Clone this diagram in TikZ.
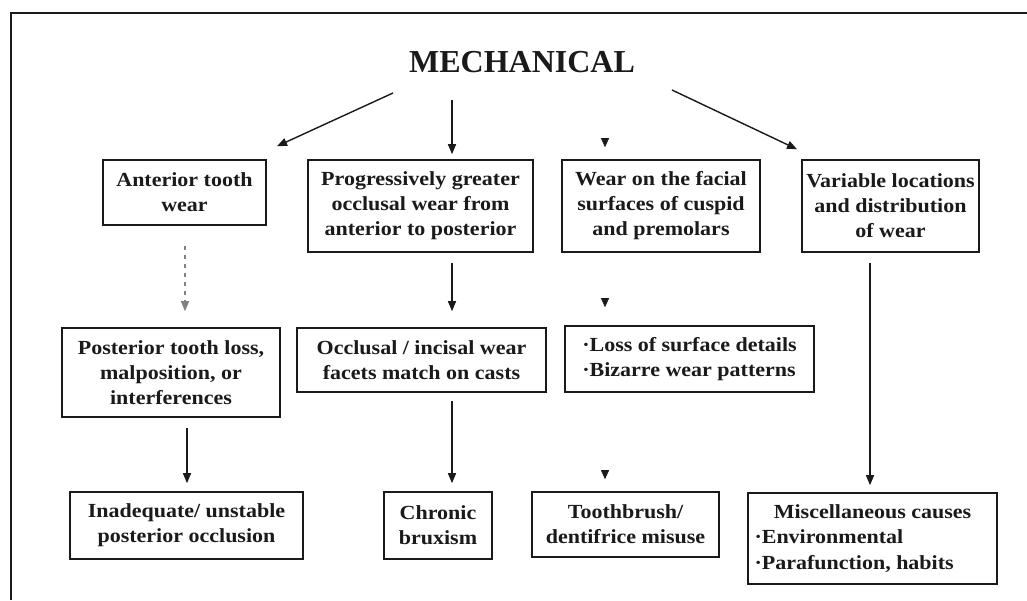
\documentclass[tikz,border=0pt]{standalone}
\usepackage{fontspec}
\setmainfont{Liberation Serif}[FakeStretch=1.1]
\newfontfamily\titlefont{Liberation Serif}
\usetikzlibrary{arrows.meta}
\definecolor{ink}{HTML}{1A1A1A}
\begin{document}
\begin{tikzpicture}[x=1pt,y=-1pt,
  box/.style={draw=ink,line width=1.6pt,inner sep=0pt,align=center,text=ink,
    font=\fontsize{20}{25}\selectfont\bfseries},
  arr/.style={draw=ink,line width=1.4pt,-{Triangle[length=10pt,width=8pt]}},
  tip/.style={draw=ink,line width=0.6pt,-{Triangle[length=9pt,width=8pt]}},
  faint/.style={draw=ink!55,line width=1.1pt,dash pattern=on 4pt off 5pt,-{Triangle[length=10pt,width=8pt]}}]
\useasboundingbox (0,0) rectangle (1027,600);
\fill[white] (0,0) rectangle (1027,600);
% frame
\draw[ink,line width=2pt] (11,600) -- (11,13) -- (1027,13);
% title
\node[text=ink,font=\titlefont\fontsize{32}{36}\selectfont\bfseries] (title) at (522,62) {MECHANICAL};
% row 1
\node[box,minimum width=163pt,minimum height=65pt] (ant) at (184.5,192.5) {Anterior tooth\\wear};
\node[box,minimum width=225pt,minimum height=92pt] (prog) at (420.5,206) {Progressively greater\\occlusal wear from\\anterior to posterior};
\node[box,minimum width=198pt,minimum height=92pt] (facial) at (661,206) {Wear on the facial\\surfaces of cuspid\\and premolars};
\node[box,minimum width=177pt,minimum height=92pt] (var) at (890.5,206) {Variable locations\\and distribution\\of wear};
% row 2
\node[box,minimum width=218pt,minimum height=89pt] (post) at (171,372.5) {Posterior tooth loss,\\malposition, or\\interferences};
\node[box,minimum width=249pt,minimum height=64pt] (occl) at (421.5,360) {Occlusal / incisal wear\\facets match on casts};
\node[box,minimum width=249pt,minimum height=66pt,align=left] (loss) at (689.5,359) {·Loss of surface details\\·Bizarre wear patterns};
% row 3
\node[box,minimum width=233pt,minimum height=67pt] (inad) at (186.5,525.5) {Inadequate/ unstable\\posterior occlusion};
\node[box,minimum width=108pt,minimum height=67pt] (chron) at (438,525.5) {Chronic\\bruxism};
\node[box,minimum width=187pt,minimum height=65pt] (tooth) at (625.5,524.5) {Toothbrush/\\dentifrice misuse};
\node[box,minimum width=249pt,minimum height=91pt] (misc) at (872.5,538.5) {\begin{minipage}{236pt}\baselineskip=25.5pt
{\centering Miscellaneous causes\par}
\raggedright ·Environmental\par
·Parafunction, habits\end{minipage}};
% connectors from title
\draw[arr] ([xshift=-129pt,yshift=-31pt]title.center) -- ([xshift=92.5pt,yshift=13pt]ant.north);
\draw[arr] ([xshift=-70pt,yshift=-38pt]title.center) -- ([xshift=31.5pt,yshift=5pt]prog.north);
\draw[tip] ([xshift=-56pt,yshift=21pt]facial.north) -- ([xshift=-56pt,yshift=12pt]facial.north);
\draw[arr] ([xshift=150pt,yshift=-28pt]title.center) -- ([xshift=-93.5pt,yshift=10pt]var.north);
% row 1 to row 2
\draw[faint] ([xshift=0.5pt,yshift=-20pt]ant.south) -- ([xshift=14pt,yshift=16pt]post.north);
\draw[arr] ([xshift=31.5pt,yshift=-10pt]prog.south) -- ([xshift=30.5pt,yshift=16pt]occl.north);
\draw[tip] ([xshift=-84.5pt,yshift=27pt]loss.north) -- ([xshift=-84.5pt,yshift=18pt]loss.north);
\draw[arr] ([xshift=-20.5pt,yshift=-10pt]var.south) -- ([xshift=-2.5pt,yshift=7pt]misc.north);
% row 2 to row 3
\draw[arr] ([xshift=16pt,yshift=-10pt]post.south) -- ([xshift=0.5pt,yshift=8pt]inad.north);
\draw[arr] ([xshift=30.5pt,yshift=-8pt]occl.south) -- ([xshift=14pt,yshift=8pt]chron.north);
\draw[tip] ([xshift=-20.5pt,yshift=21pt]tooth.north) -- ([xshift=-20.5pt,yshift=12pt]tooth.north);
\end{tikzpicture}
\end{document}
